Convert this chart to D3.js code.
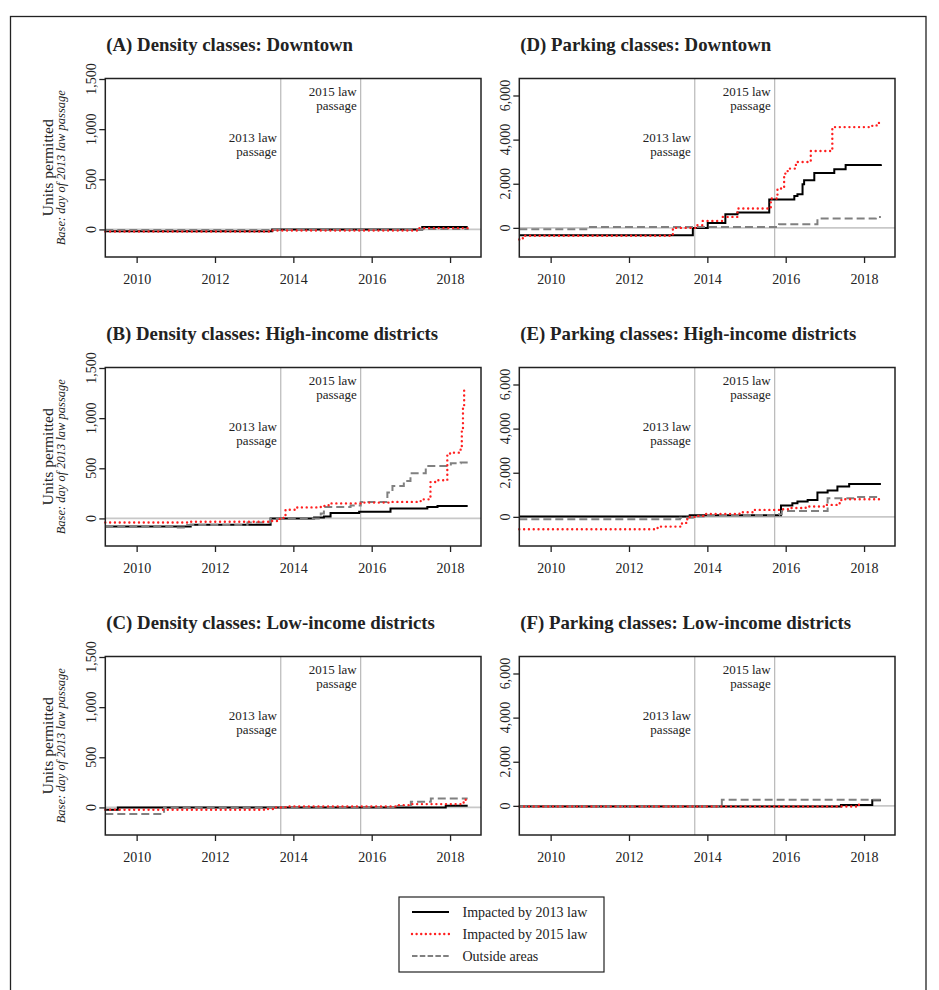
<!DOCTYPE html>
<html>
<head>
<meta charset="utf-8">
<script src="https://cdn.jsdelivr.net/npm/d3@7"></script>
<style>
  body { margin: 0; background: #fff; }
  svg { display: block; font-family: "Liberation Serif", "DejaVu Serif", serif; }
</style>
</head>
<body>
<svg id="chart" width="939" height="990"></svg>
<script>
// step series: [decimal year, units permitted relative to 2013 law passage]
const densityDowntown13 = [[2009.2,-17],[2013.46,0],[2017.29,23],[2018.45,23]];
const densityDowntown15 = [[2009.2,-20],[2013.46,-10],[2017.17,13],[2018.45,13]];
const densityDowntownOut = [[2009.2,-5],[2013.46,0],[2016.5,5],[2018.45,8]];

const densityHigh13 = [[2009.2,-80],[2011.38,-63],[2013.42,0],[2014.53,10],[2014.78,20],[2014.95,53],[2015.68,66],[2016.48,99],[2017.42,115],[2017.68,125],[2018.45,125]];
const densityHigh15 = [[2009.2,-40],[2011.3,-33],[2013.42,-25],[2013.6,-5],[2013.75,20],[2013.8,87],[2014.1,110],[2014.7,125],[2014.9,150],[2015.8,158],[2016.5,165],[2017.25,190],[2017.5,362],[2017.62,380],[2017.93,639],[2018.0,656],[2018.27,700],[2018.3,900],[2018.33,1100],[2018.36,1280],[2018.37,1280]];
const densityHighOut = [[2009.2,-85],[2010.95,-90],[2011.29,-65],[2012.83,-40],[2013.42,0],[2014.7,50],[2014.78,115],[2015.46,130],[2015.72,163],[2016.4,258],[2016.53,324],[2016.82,374],[2016.99,450],[2017.38,523],[2018.02,550],[2018.27,557],[2018.45,557]];

const densityLow13 = [[2009.2,-23],[2009.52,0],[2017.89,16],[2018.45,16]];
const densityLow15 = [[2009.2,-23],[2013.25,-15],[2013.5,0],[2013.8,10],[2016.66,23],[2017.0,33],[2018.27,49],[2018.4,80],[2018.45,80]];
const densityLowOut = [[2009.2,-66],[2010.7,0],[2016.66,15],[2017.0,56],[2017.51,89],[2018.45,89]];

const parkingDowntown13 = [[2009.2,-330],[2013.63,0],[2014.01,226],[2014.46,620],[2014.77,695],[2015.58,1283],[2016.22,1447],[2016.3,1524],[2016.43,1976],[2016.47,2157],[2016.73,2488],[2017.24,2655],[2017.53,2850],[2018.43,2880]];
const parkingDowntown15 = [[2009.2,-525],[2009.29,-360],[2013.12,0],[2013.71,122],[2013.88,317],[2014.39,498],[2014.77,875],[2015.62,1330],[2015.79,1782],[2015.96,2460],[2016.05,2686],[2016.26,2985],[2016.64,3483],[2017.19,4568],[2018.21,4645],[2018.38,4871],[2018.43,4871]];
const parkingDowntownOut = [[2009.2,-60],[2010.91,45],[2015.83,166],[2016.81,423],[2018.3,498],[2018.43,498]];

const parkingHigh13 = [[2009.2,15],[2013.55,75],[2015.88,512],[2016.17,618],[2016.3,693],[2016.56,769],[2016.81,1100],[2017.07,1191],[2017.32,1372],[2017.62,1493],[2018.43,1493]];
const parkingHigh15 = [[2009.2,-558],[2012.73,-440],[2013.33,-300],[2013.46,-105],[2013.54,0],[2013.71,45],[2013.97,135],[2014.82,210],[2015.16,317],[2015.88,347],[2016.1,400],[2016.51,467],[2017.02,543],[2017.36,618],[2017.42,800],[2018.43,800]];
const parkingHighOut = [[2009.2,-105],[2013.3,-45],[2013.63,15],[2013.97,90],[2015.83,120],[2015.9,270],[2017.07,845],[2017.75,900],[2018.43,900]];

const parkingLow13 = [[2009.2,-30],[2017.41,45],[2018.21,257],[2018.43,257]];
const parkingLow15 = [[2009.2,-30],[2017.87,121],[2017.95,121]];
const parkingLowOut = [[2009.2,-30],[2014.37,272],[2018.43,272]];

const lawDates = [2013.68, 2015.72];
const lawLabels = [["2013 law", "passage"], ["2015 law", "passage"]];
const xTicks = [2010, 2012, 2014, 2016, 2018];
const densityTicks = [0, 500, 1000, 1500];
const parkingTicks = [0, 2000, 4000, 6000];
const legendLabels = ["Impacted by 2013 law", "Impacted by 2015 law", "Outside areas"];

const panels = [
  { title: "(A) Density classes: Downtown", col: 0, row: 0, kind: "density", series: [densityDowntown13, densityDowntown15, densityDowntownOut] },
  { title: "(B) Density classes: High-income districts", col: 0, row: 1, kind: "density", series: [densityHigh13, densityHigh15, densityHighOut] },
  { title: "(C) Density classes: Low-income districts", col: 0, row: 2, kind: "density", series: [densityLow13, densityLow15, densityLowOut] },
  { title: "(D) Parking classes: Downtown", col: 1, row: 0, kind: "parking", series: [parkingDowntown13, parkingDowntown15, parkingDowntownOut] },
  { title: "(E) Parking classes: High-income districts", col: 1, row: 1, kind: "parking", series: [parkingHigh13, parkingHigh15, parkingHighOut] },
  { title: "(F) Parking classes: Low-income districts", col: 1, row: 2, kind: "parking", series: [parkingLow13, parkingLow15, parkingLowOut] }
];

// line styles: 2013 law, 2015 law, outside
const styles = [
  { color: "#000", width: 2, dash: null, cap: "butt" },
  { color: "#ff1f1f", width: 2.4, dash: "0.01,4.8", cap: "round" },
  { color: "#808080", width: 2, dash: "8,4", cap: "butt" }
];
const drawOrder = [0, 2, 1];

const svg = d3.select("#chart");

// outer frame
svg.append("rect")
  .attr("x", 10.5).attr("y", 16.5)
  .attr("width", 915.5).attr("height", 1000)
  .attr("fill", "none").attr("stroke", "#222").attr("stroke-width", 1.3);

const colLeft = [105.3, 519.3];
const rowTop = [78.5, 367.5, 656.5];
const plotW = 375.7, plotH = 178.5;

const yDomains = { density: [-275, 1505], parking: [-1320, 6770] };
const yTicksFor = { density: densityTicks, parking: parkingTicks };

panels.forEach(p => {
  const left = colLeft[p.col], top = rowTop[p.row];
  const g = svg.append("g").attr("transform", `translate(${left},${top})`);

  const x = d3.scaleLinear().domain([2009.2, 2018.79]).range([0, plotW]);
  const y = d3.scaleLinear().domain(yDomains[p.kind]).range([plotH, 0]);

  // title
  g.append("text")
    .attr("x", 1).attr("y", -28)
    .style("font-size", "18.8px").style("font-weight", "bold").style("fill", "#222")
    .text(p.title);

  // zero line
  g.append("line")
    .attr("x1", 0).attr("x2", plotW)
    .attr("y1", y(0)).attr("y2", y(0))
    .attr("stroke", "#c8c8c8").attr("stroke-width", 1.6);

  // law passage lines + labels
  lawDates.forEach((d, i) => {
    g.append("line")
      .attr("x1", x(d)).attr("x2", x(d))
      .attr("y1", 0).attr("y2", plotH)
      .attr("stroke", "#aaa").attr("stroke-width", 1);
    const baseY = i === 0 ? 63 : 17;
    lawLabels[i].forEach((s, k) => {
      g.append("text")
        .attr("text-anchor", "end")
        .attr("x", x(d) - 4).attr("y", baseY + k * 14.6)
        .style("font-size", "13px").style("fill", "#222")
        .text(s);
    });
  });

  // series
  const line = d3.line()
    .x(d => x(d[0])).y(d => y(d[1]))
    .curve(d3.curveStepAfter);
  drawOrder.forEach(si => {
    const st = styles[si];
    g.append("path")
      .datum(p.series[si])
      .attr("d", line)
      .attr("fill", "none")
      .attr("stroke", st.color)
      .attr("stroke-width", st.width)
      .attr("stroke-linecap", st.cap)
      .attr("stroke-dasharray", st.dash);
  });

  // box
  g.append("rect")
    .attr("width", plotW).attr("height", plotH)
    .attr("fill", "none").attr("stroke", "#222").attr("stroke-width", 1.5);

  // x axis
  const xa = g.append("g").attr("transform", `translate(0,${plotH})`)
    .call(d3.axisBottom(x).tickValues(xTicks).tickFormat(d3.format("d")).tickSize(6).tickPadding(11));
  xa.select(".domain").remove();
  xa.selectAll("line").attr("stroke", "#222").attr("stroke-width", 1.3);
  xa.selectAll("text").style("font-size", "14px").style("font-family", "Liberation Serif").attr("fill", "#222");

  // y axis (labels parallel to axis)
  const ya = g.append("g")
    .call(d3.axisLeft(y).tickValues(yTicksFor[p.kind]).tickSize(6).tickFormat(""));
  ya.select(".domain").remove();
  ya.selectAll("line").attr("stroke", "#222").attr("stroke-width", 1.3);
  g.append("g").selectAll("text")
    .data(yTicksFor[p.kind])
    .join("text")
    .attr("transform", d => `translate(-9,${y(d)}) rotate(-90)`)
    .attr("text-anchor", "middle")
    .style("font-size", "14px").style("fill", "#222")
    .text(d => d3.format(",")(d));

  if (p.col === 0) {
    g.append("text")
      .attr("transform", `translate(-52,${plotH / 2}) rotate(-90)`)
      .attr("text-anchor", "middle")
      .style("font-size", "15.5px").style("fill", "#222")
      .text("Units permitted");
    g.append("text")
      .attr("transform", `translate(-40,${plotH / 2}) rotate(-90)`)
      .attr("text-anchor", "middle")
      .style("font-size", "12.5px").style("font-style", "italic").style("fill", "#222")
      .text("Base: day of 2013 law passage");
  }
});

// legend
const lg = svg.append("g").attr("transform", "translate(399,897)");
lg.append("rect")
  .attr("width", 205).attr("height", 75)
  .attr("fill", "#fff").attr("stroke", "#222").attr("stroke-width", 1.2);
const legendY = d3.scalePoint().domain(legendLabels).range([15, 59]);
const legendDash = [null, "0.01,4.6", "5.5,2.3"];
legendLabels.forEach((lab, i) => {
  const st = styles[i];
  lg.append("line")
    .attr("x1", 13).attr("x2", 50)
    .attr("y1", legendY(lab)).attr("y2", legendY(lab))
    .attr("stroke", st.color).attr("stroke-width", st.width)
    .attr("stroke-linecap", st.cap)
    .attr("stroke-dasharray", legendDash[i]);
  lg.append("text")
    .attr("x", 63.5).attr("y", legendY(lab) + 5)
    .style("font-size", "14px").style("fill", "#222")
    .text(lab);
});
</script>
</body>
</html>
